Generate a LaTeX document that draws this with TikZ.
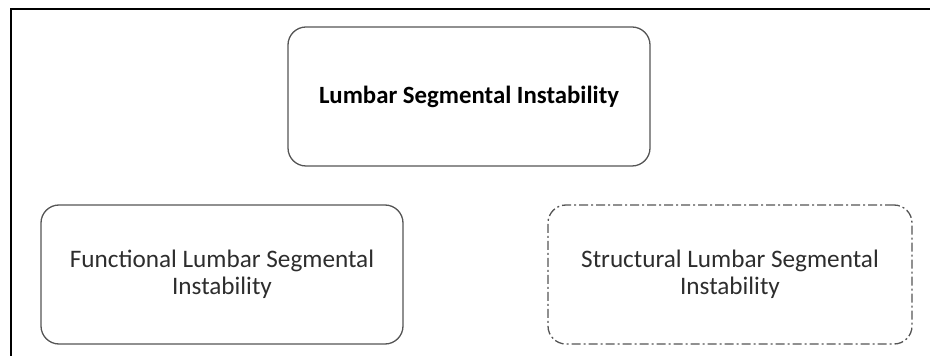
\documentclass[tikz,border=0pt]{standalone}
\usepackage{fontspec}
\setmainfont{Carlito}
\definecolor{boxline}{RGB}{85,85,85}
\definecolor{boxtext}{RGB}{45,45,45}
\tikzset{
  class box/.style={draw=boxline,line width=1.3pt,rounded corners=18pt,
    minimum width=362pt,minimum height=139pt,align=center,
    text=boxtext,font=\fontsize{25.2}{27}\selectfont},
  class root/.style={class box,text=black,font=\fontsize{24.8}{27}\selectfont\bfseries},
  class open/.style={class box,dash pattern=on 9pt off 3pt on 2pt off 3pt}
}

\begin{document}
\begin{tikzpicture}[x=1pt,y=1pt]
  \useasboundingbox (0,0) rectangle (930,356);
  \draw[black,line width=1.6pt] (11,0)--(11,347)--(930,347);

  \node[class root] (lsi) at (469,259.5) {Lumbar Segmental Instability};
  \node[class box] (func) at (222,81.5)
    {Functional Lumbar Segmental\\Instability};
  \node[class open,minimum width=364pt] (struct) at (730,81.5)
    {Structural Lumbar Segmental\\Instability};
\end{tikzpicture}
\end{document}
